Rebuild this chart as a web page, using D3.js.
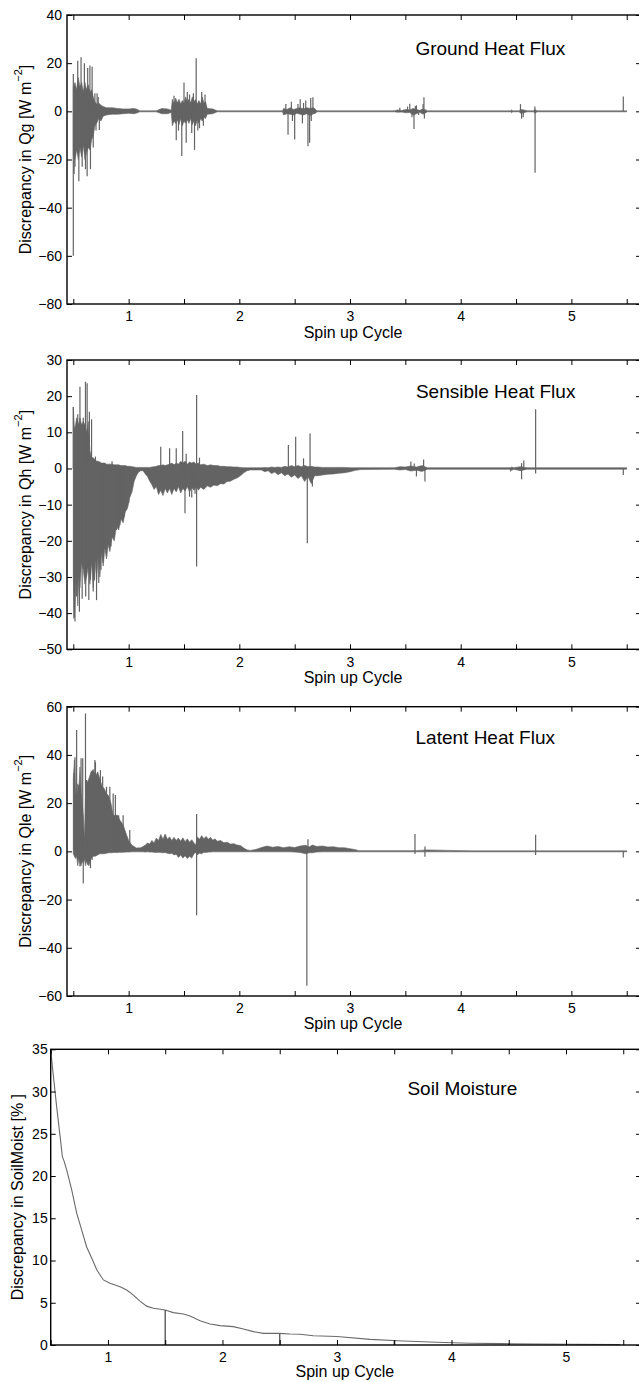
<!DOCTYPE html>
<html>
<head>
<meta charset="utf-8">
<script src="https://cdn.jsdelivr.net/npm/d3@7"></script>
<style>
  body { margin: 0; background: #fff; }
  svg { display: block; font-family: "Liberation Sans", Arial, Helvetica, sans-serif; }
</style>
</head>
<body>
<div id="chart"></div>
<script>
// x ticks shared by all panels (labels only on whole cycles)
const xTicks = [0.5, 1, 1.5, 2, 2.5, 3, 3.5, 4, 4.5, 5, 5.5];

// ---- Ground heat flux: envelope [x, hi, lo] + spikes [x, v]
const qgYTicks = [-80, -60, -40, -20, 0, 20, 40];
const qgEnv = [
  [0.500,10,-18],[0.515,12,-20],[0.530,9,-16],[0.545,14,-20],[0.560,10,-15],[0.575,12,-19],
  [0.590,8,-14],[0.605,12,-20],[0.620,9,-17],[0.635,11,-15],[0.650,8,-16],[0.665,9,-12],
  [0.680,6,-10],[0.695,4,-6],[0.710,3,-5],[0.730,3.5,-3],[0.750,2.5,-4],[0.770,2,-2],
  [0.800,1.5,-1.5],[0.850,1.5,-1.2],[0.900,1.2,-1.2],[0.950,1,-1],[1.000,1,-0.8],[1.050,1.2,-1],
  [1.080,0.8,-0.6],[1.100,0.2,-0.2],[1.250,0.2,-0.2],[1.300,1.2,-1],[1.350,1,-1],[1.385,0.5,-0.5],
  [1.395,5,-6],[1.410,3,-4],[1.425,5.5,-5],[1.440,3.5,-3.5],[1.455,5,-5.5],[1.470,3,-3],
  [1.485,4.5,-6],[1.500,3.5,-4],[1.515,6,-5],[1.530,4,-3.5],[1.545,5,-5],[1.560,3.5,-3],
  [1.575,6,-5.5],[1.590,4,-4],[1.605,5,-6],[1.620,3,-3.5],[1.635,4.5,-5],[1.650,3,-3],
  [1.665,6,-4],[1.680,3.5,-2.5],[1.695,4,-3],[1.710,1.2,-1.2],[1.760,1,-1],[1.800,0.2,-0.2],
  [2.390,0.2,-0.2],[2.400,1.2,-1.5],[2.430,0.8,-1],[2.460,1.5,-1.2],[2.490,0.8,-1.5],[2.520,1.2,-0.8],
  [2.550,1.5,-1.2],[2.580,1,-1.5],[2.610,1.5,-1],[2.640,1.2,-1.8],[2.670,1.5,-1],[2.690,0.8,-0.8],
  [2.700,0.2,-0.2],[3.400,0.2,-0.2],[3.430,0.6,-0.4],[3.470,0.3,-0.3],[3.500,0.8,-0.6],[3.540,0.6,-0.5],
  [3.570,1.2,-1.5],[3.600,0.8,-1],[3.630,0.4,-0.4],[3.660,1,-1.2],[3.690,0.5,-0.5],[3.700,0.2,-0.2],
  [4.450,0.2,-0.2],[4.460,0.6,-0.6],[4.470,0.2,-0.2],[4.530,0.2,-0.2],[4.540,0.8,-0.8],[4.570,0.6,-0.6],
  [4.600,0.2,-0.2],[4.660,0.2,-0.2],[4.670,0.8,-0.8],[4.690,0.2,-0.2],[5.500,0.2,-0.2]
];
const qgSpikes = [
  [0.500,15.5],[0.500,-60],[0.507,-26],[0.515,-23],[0.540,21],[0.550,-29],[0.570,22.5],[0.580,-23],
  [0.600,20],[0.610,-24],[0.625,-27],[0.630,18],[0.650,19],[0.655,-24],[0.670,18.5],[0.680,-15],
  [0.695,7.5],[0.705,-8],[0.715,7.5],[0.725,6],[0.735,-7.7],
  [1.410,6.5],[1.430,-12],[1.450,-8],[1.480,-18.5],[1.500,12],[1.520,-13],[1.530,8],[1.550,7],
  [1.570,-9],[1.585,7.5],[1.595,-16],[1.610,22],[1.625,-8],[1.640,-7],[1.660,8],[1.675,-6],[1.690,7],
  [2.420,3],[2.440,-9.7],[2.470,4],[2.480,-4],[2.500,-11.7],[2.530,3],[2.550,5],[2.570,-5],
  [2.580,3.5],[2.600,4.5],[2.620,-14.5],[2.635,-13],[2.645,5.5],[2.650,-4],[2.665,5.8],
  [3.450,1.5],[3.520,2],[3.540,3.2],[3.560,-2.5],[3.578,-7.3],[3.590,2.2],[3.600,2.5],[3.620,-1.5],
  [3.660,3],[3.668,5.8],[3.672,-3],
  [4.540,3],[4.550,-3],[4.565,-2.5],[4.670,2],[4.672,-25.5],
  [5.469,6.2]
];

// ---- Sensible heat flux
const qhYTicks = [-50, -40, -30, -20, -10, 0, 10, 20, 30];
const qhEnv = [
  [0.500,17,-30],[0.510,11,-41],[0.520,12,-34],[0.530,14,-28],[0.540,13,-38],[0.550,12,-30],
  [0.560,14,-33],[0.575,12,-26],[0.590,13,-28],[0.605,12,-32],[0.620,10,-30],[0.635,13,-27],
  [0.650,5,-32],[0.665,3,-26],[0.680,3,-33],[0.695,2.5,-25],[0.710,2,-31],[0.725,2,-24],
  [0.740,1.8,-30],[0.755,1.5,-23],[0.770,1.5,-27],[0.785,1.5,-22],[0.800,1.2,-25],[0.815,1.2,-21],
  [0.830,1.2,-23],[0.850,1.2,-19],[0.870,1,-20],[0.890,1,-16],[0.910,1,-17],[0.930,0.8,-14],
  [0.950,0.8,-15],[0.970,0.8,-12],[0.990,0.6,-11],[1.010,0.6,-8],[1.030,0.5,-6.5],[1.050,0.4,-3.5],
  [1.070,0.3,-2],[1.090,0.3,-1],[1.110,0.3,-0.6],
  [1.130,0.3,-0.6],[1.150,0.3,-1.5],[1.170,0.3,-2.2],[1.190,0.3,-3.5],[1.210,0.4,-4.5],[1.230,0.5,-5.8],
  [1.250,0.6,-5],[1.270,0.8,-7.2],[1.290,0.8,-6],[1.310,1,-7.5],[1.330,0.8,-5.5],[1.350,1,-6.8],
  [1.370,1.2,-5.5],[1.390,1.5,-7.2],[1.410,1,-5.5],[1.430,1.5,-6.5],[1.450,1.2,-5],[1.470,2,-6.8],
  [1.490,1.5,-5.5],[1.510,2,-6.2],[1.530,1.2,-5],[1.550,1.8,-6.5],[1.570,1.5,-5.2],[1.590,1.8,-6],
  [1.610,1.2,-5],[1.630,1.5,-6],[1.650,1,-5.2],[1.680,1.2,-5.8],[1.710,0.8,-4.8],[1.740,1,-5.2],
  [1.770,0.8,-4.6],[1.800,0.8,-4.8],[1.830,0.6,-4.2],[1.860,0.6,-4.3],[1.890,0.5,-3.6],[1.920,0.5,-3.5],
  [1.950,0.4,-3],[1.980,0.4,-2.6],[2.010,0.3,-2],[2.040,0.2,-1.2],[2.070,0.2,-0.6],[2.100,0.2,-0.4],
  [2.200,0.2,-0.4],[2.230,0.3,-0.9],[2.260,0.2,-0.6],[2.290,0.4,-1.4],[2.320,0.3,-1],[2.350,0.4,-1.7],
  [2.380,0.3,-1.2],[2.410,0.6,-2],[2.440,0.4,-1.5],[2.470,0.8,-2.4],[2.500,0.5,-1.8],[2.530,0.8,-2.8],
  [2.560,0.5,-2],[2.590,0.8,-3.6],[2.620,0.5,-2.2],[2.650,0.6,-4.2],[2.680,0.4,-2],[2.710,0.4,-2],
  [2.750,0.3,-1.8],[2.800,0.3,-1.6],[2.850,0.3,-1.5],[2.900,0.3,-1.3],[2.950,0.3,-1.2],[3.000,0.2,-0.9],
  [3.050,0.2,-0.5],[3.100,0.2,-0.3],[3.400,0.2,-0.2],[3.450,0.5,-0.4],[3.500,0.4,-0.3],[3.550,0.7,-0.7],
  [3.600,0.4,-0.5],[3.650,0.8,-0.8],[3.700,0.2,-0.2],[4.450,0.2,-0.2],[4.460,0.4,-0.5],[4.480,0.2,-0.2],
  [4.540,0.5,-0.6],[4.600,0.2,-0.2],[5.500,0.2,-0.2]
];
const qhSpikes = [
  [0.500,17],[0.505,-41.5],[0.515,-42.3],[0.530,-35.4],[0.540,15],[0.555,-39.6],[0.560,22.6],
  [0.575,-25],[0.580,-36],[0.590,14],[0.610,24],[0.612,-35.4],[0.625,23.6],[0.640,-36.4],[0.645,15.7],
  [0.655,-30.8],[0.665,13.6],[0.680,-34],[0.690,-31],[0.700,3.3],[0.710,-36.4],[0.730,-31.7],
  [0.750,-28],[0.770,-26],[0.800,-24.4],[0.840,-21.6],[0.850,2],[0.890,-17],[0.920,-15.6],
  [0.960,-13.3],[1.000,-9.5],
  [1.290,6],[1.370,5.6],[1.430,5.6],[1.488,10.4],[1.509,-12.4],[1.520,4.1],[1.550,-7.8],[1.570,-8],
  [1.600,-7],[1.614,20.3],[1.614,-27.1],[1.640,3],
  [2.443,6.5],[2.509,8.8],[2.580,2.8],[2.614,-20.7],[2.639,9.7],[2.660,-5],
  [3.550,1.9],[3.580,1.4],[3.600,-2.2],[3.665,2.5],[3.677,-3.6],
  [4.450,-0.8],[4.550,-3],[4.550,1.5],[4.570,2.2],[4.677,16.4],[4.677,-1.4],
  [5.469,-1.8]
];

// ---- Latent heat flux
const qleYTicks = [-60, -40, -20, 0, 20, 40, 60];
const qleEnv = [
  [0.500,30,-1],[0.510,38,-2],[0.520,25,-3],[0.530,22,-2],[0.540,28,-6],[0.550,26,-3],
  [0.560,35,-5],[0.570,25,-6],[0.580,20,-4],[0.590,15,-5],[0.600,5,-3],[0.610,22,-6],
  [0.620,28,-4],[0.640,30,-6],[0.660,33,-3],[0.680,34,-2],[0.700,31,-2],[0.720,33,-1.5],
  [0.740,30,-1],[0.760,27,-1],[0.780,26,-1],[0.800,24,-0.8],[0.820,23,-0.6],[0.840,20,-0.6],
  [0.860,15,-0.5],[0.880,15,-0.5],[0.900,15,-0.5],[0.920,13,-0.4],[0.950,11,-0.4],[0.980,7,-0.3],
  [1.000,4.5,-0.3],[1.030,2.5,-0.2],[1.070,1.4,-0.2],[1.110,1.5,-0.2],
  [1.130,2,-0.2],[1.150,2.5,-0.3],[1.170,3.5,-0.2],[1.190,3,-0.3],[1.210,4.5,-0.3],[1.230,3.5,-0.4],
  [1.250,5.5,-0.5],[1.270,4.5,-0.4],[1.290,7,-0.5],[1.310,5,-0.6],[1.330,7.2,-0.5],[1.350,5,-0.8],
  [1.370,6,-1],[1.390,4.5,-0.8],[1.410,5.8,-1.5],[1.430,4.5,-1.2],[1.450,5.5,-2.5],[1.470,4.2,-1.5],
  [1.490,5.6,-2.8],[1.510,4,-1.8],[1.530,5.2,-3],[1.550,3.8,-2],[1.570,4.8,-2.8],[1.590,3.5,-1],
  [1.605,2.5,-0.5],[1.620,6,-1.5],[1.640,5,-0.8],[1.660,6.5,-1],[1.680,5.2,-0.4],[1.700,6.2,-0.5],
  [1.720,5,-0.3],[1.740,5.8,-0.3],[1.760,4.6,-0.2],[1.780,5.2,-0.2],[1.800,4.2,-0.2],[1.830,4.5,-0.2],
  [1.860,3.6,-0.2],[1.890,3.8,-0.2],[1.920,3,-0.2],[1.950,3.2,-0.2],[1.980,2.6,-0.2],[2.010,2.4,-0.2],
  [2.040,1.4,-0.2],[2.070,0.6,-0.2],[2.100,0.4,-0.2],[2.150,0.8,-0.2],[2.200,1.6,-0.2],[2.250,2.2,-0.2],
  [2.300,1.7,-0.2],[2.350,2,-0.2],[2.400,1.5,-0.2],[2.450,1.9,-0.2],[2.500,1.6,-0.3],[2.550,2.2,-0.5],
  [2.600,2.5,-1],[2.630,1.8,-0.6],[2.660,2.6,-0.6],[2.700,2,-0.3],[2.750,2.2,-0.2],[2.800,1.8,-0.2],
  [2.850,1.9,-0.2],[2.900,1.5,-0.2],[2.950,1.5,-0.2],[3.000,1.1,-0.2],[3.050,0.7,-0.2],[3.080,0.3,-0.2],
  [3.600,0.3,-0.2],[3.700,0.6,-0.2],[3.900,0.4,-0.2],[4.100,0.2,-0.2],[5.500,0.2,-0.2]
];
const qleSpikes = [
  [0.505,32.4],[0.515,39],[0.530,50.3],[0.545,24],[0.550,27.5],[0.560,-6.3],[0.570,38.6],[0.585,38.6],
  [0.590,-13.3],[0.610,57.2],[0.620,29.6],[0.630,-5.6],[0.655,-7],[0.670,-3.6],[0.695,37.9],[0.700,37],
  [0.720,31.7],[0.745,33.7],[0.765,31],[0.800,26.8],[0.830,26.8],[0.860,24],[0.880,23.4],[0.910,15],
  [0.950,15],[1.010,8.9],
  [1.614,15.5],[1.614,-26.5],[2.610,-55.8],[2.620,5],
  [3.587,7.2],[3.587,-1.1],[3.677,-2.2],[3.677,2],[4.677,6.9],[4.677,-1.5],[5.469,-2.6]
];

// ---- Soil moisture curve [x, v] and restart drops
const smYTicks = [0, 5, 10, 15, 20, 25, 30, 35];
const smCurve = [
  [0.500,34.9],[0.523,31.9],[0.552,28.2],[0.582,24.7],[0.602,22.3],[0.616,21.8],[0.640,20.7],
  [0.683,18.4],[0.727,15.6],[0.771,13.6],[0.814,11.6],[0.858,10.3],[0.902,8.9],[0.960,7.7],
  [1.018,7.3],[1.106,6.9],[1.164,6.5],[1.222,5.9],[1.280,5.2],[1.338,4.6],[1.397,4.35],[1.499,4.14],
  [1.571,3.83],[1.659,3.67],[1.717,3.43],[1.804,2.88],[1.892,2.49],[1.979,2.29],[2.095,2.17],
  [2.183,1.9],[2.270,1.58],[2.357,1.38],[2.494,1.38],[2.590,1.3],[2.678,1.27],[2.794,1.1],
  [3.000,1.0],[3.290,0.67],[3.580,0.47],[3.870,0.32],[4.160,0.2],[4.450,0.16],[4.740,0.12],
  [5.040,0.08],[5.470,0.04]
];
const smDrops = [[1.5,4.14],[2.5,1.38],[3.5,0.5],[4.5,0.16]];

const lineCol = "#636363";

const panels = [
  { top: 15, bottom: 304, left: 67, right: 641, xDom: [0.443, 5.629], yDom: [-80, 40],
    yTicks: qgYTicks, env: qgEnv, spikes: qgSpikes, name: "Qg", title: "Ground Heat Flux",
    titleAt: [4.268, 23.4], ylabX: 25, ypad: 5, xlabY: 338 },
  { top: 360, bottom: 649.3, left: 67, right: 641, xDom: [0.443, 5.629], yDom: [-50, 30],
    yTicks: qhYTicks, env: qhEnv, spikes: qhSpikes, name: "Qh", title: "Sensible Heat Flux",
    titleAt: [4.316, 19.4], ylabX: 25, ypad: 5, xlabY: 683 },
  { top: 706.7, bottom: 996, left: 67, right: 641, xDom: [0.443, 5.629], yDom: [-60, 60],
    yTicks: qleYTicks, env: qleEnv, spikes: qleSpikes, name: "Qle", title: "Latent Heat Flux",
    titleAt: [4.222, 44.5], ylabX: 25, ypad: 5, xlabY: 1029 },
  { top: 1049.3, bottom: 1345, left: 50.7, right: 641, xDom: [0.5, 5.655], yDom: [0, 35],
    yTicks: smYTicks, curve: smCurve, drops: smDrops, name: "SoilMoist", title: "Soil Moisture",
    titleAt: [4.095, 29.6], ylabX: 17, ypad: 3, xlabY: 1377 }
];

const svg = d3.select("#chart").append("svg")
  .attr("width", 639).attr("height", 1382);

function drawPanel(p) {
  const x = d3.scaleLinear().domain(p.xDom).range([p.left, p.right]);
  const y = d3.scaleLinear().domain(p.yDom).range([p.bottom, p.top]);
  const g = svg.append("g");

  if (p.env) {
    const area = d3.area()
      .x(d => x(d[0]))
      .y0(d => y(d[2]))
      .y1(d => y(d[1]));
    g.append("path").datum(p.env)
      .attr("d", area)
      .attr("fill", lineCol)
      .attr("stroke", lineCol)
      .attr("stroke-width", 0.6);
  }
  if (p.spikes) {
    g.selectAll("line.spike").data(p.spikes).join("line")
      .attr("class", "spike")
      .attr("x1", d => x(d[0])).attr("x2", d => x(d[0]))
      .attr("y1", y(0)).attr("y2", d => y(d[1]))
      .attr("stroke", lineCol)
      .attr("stroke-width", 1.2);
  }
  if (p.curve) {
    const line = d3.line().x(d => x(d[0])).y(d => y(d[1]));
    g.append("path").datum(p.curve)
      .attr("d", line)
      .attr("fill", "none")
      .attr("stroke", "#6a6a6a")
      .attr("stroke-width", 1.1);
    g.selectAll("line.drop").data(p.drops).join("line")
      .attr("class", "drop")
      .attr("x1", d => x(d[0])).attr("x2", d => x(d[0]))
      .attr("y1", y(0)).attr("y2", d => y(d[1]))
      .attr("stroke", "#5a5a5a")
      .attr("stroke-width", 1.4);
  }

  // axes, MATLAB style inward ticks on all four sides
  const fmtX = d => Number.isInteger(d) ? d : "";
  const axes = [
    [d3.axisBottom(x).tickValues(xTicks).tickSize(-5).tickPadding(7.5).tickFormat(fmtX), `translate(0,${p.bottom})`],
    [d3.axisTop(x).tickValues(xTicks).tickSize(-5).tickFormat(""), `translate(0,${p.top})`],
    [d3.axisLeft(y).tickValues(p.yTicks).tickSize(-5).tickPadding(p.ypad), `translate(${p.left},0)`],
    [d3.axisRight(y).tickValues(p.yTicks).tickSize(-5).tickFormat(""), `translate(${p.right},0)`]
  ];
  axes.forEach(([ax, tr]) => {
    const a = g.append("g").attr("transform", tr).call(ax);
    a.select(".domain").remove();
    a.attr("font-size", 14).attr("font-family", null);
    a.selectAll("line").attr("stroke", "#000").attr("stroke-width", 1);
    a.selectAll("text").attr("fill", "#000");
  });

  g.append("rect")
    .attr("x", p.left).attr("y", p.top)
    .attr("width", p.right - p.left).attr("height", p.bottom - p.top)
    .attr("fill", "none").attr("stroke", "#000").attr("stroke-width", 1.4);

  // title inside the axes
  g.append("text")
    .attr("x", x(p.titleAt[0])).attr("y", y(p.titleAt[1]))
    .attr("text-anchor", "middle")
    .attr("font-size", 19)
    .text(p.title);

  // x label
  g.append("text")
    .attr("x", (p.left + p.right - 2) / 2).attr("y", p.xlabY)
    .attr("text-anchor", "middle")
    .attr("font-size", 16)
    .text("Spin up Cycle");

  // y label
  const yl = g.append("text")
    .attr("transform", `translate(${p.ylabX},${(p.top + p.bottom) / 2}) rotate(-90)`)
    .attr("text-anchor", "middle")
    .attr("dominant-baseline", "central")
    .attr("font-size", 16);
  if (p.name === "SoilMoist") {
    yl.text("Discrepancy in SoilMoist [%\u00a0]");
  } else {
    yl.append("tspan").text(`Discrepancy in ${p.name} [W m`);
    yl.append("tspan").attr("font-size", 11).attr("dy", -7).text("\u22122");
    yl.append("tspan").attr("dy", 7).text("]");
  }
}

panels.forEach(drawPanel);
</script>
</body>
</html>
